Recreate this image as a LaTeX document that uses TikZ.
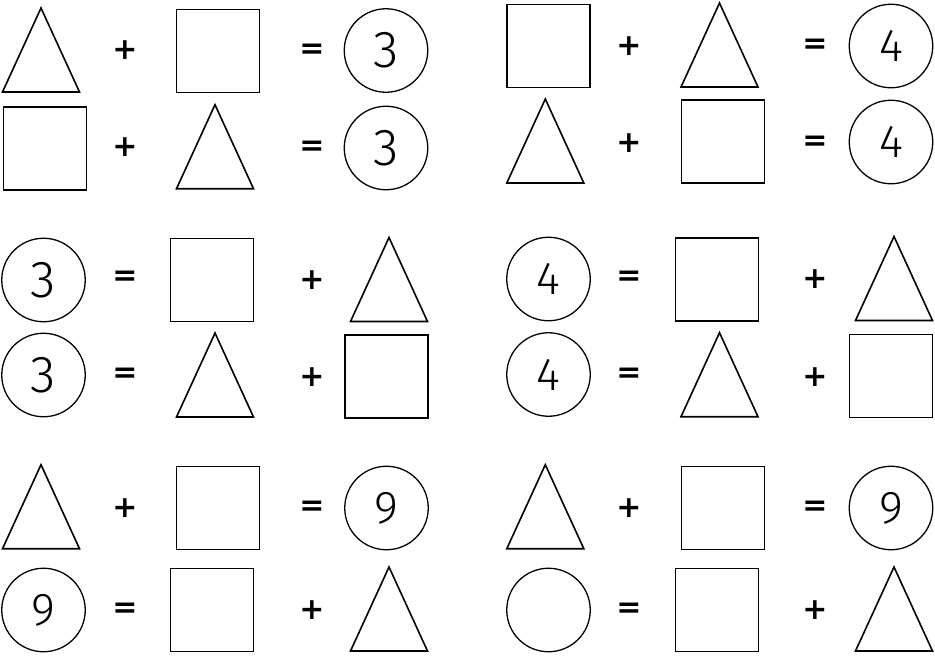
\documentclass[tikz,border=0pt]{standalone}
\usepackage{fontspec}
\newfontfamily\numfont{Fira Sans Light}
\newfontfamily\signfont{DejaVu Sans}
\tikzset{
  box/.style={draw, line width=1.6pt, minimum size=83pt, inner sep=0pt},
  ring/.style={draw, circle, line width=1.3pt, minimum size=83.5pt, inner sep=0pt},
  sign/.style={font=\signfont\bfseries\fontsize{30}{30}\selectfont, inner sep=0pt},
  num/.style={font=\numfont\fontsize{#1}{#1}\selectfont},
  tri/.pic={\draw[line width=1.6pt] (-38.5,42) -- (0,-42) -- (38.5,42) -- cycle;}
}
\begin{document}
\begin{tikzpicture}[x=1pt, y=-1pt]
  \useasboundingbox (0,0) rectangle (935,657);

  % row 1
  \pic (tri1l) at (41,50) {tri};
  \node[sign] (plus1l) at (125,50) {+};
  \node[box] (sq1l) at (218,51) {};
  \node[sign] (eq1l) at (312,51.5) {=};
  \node[ring, num=52] (ring1l) at (386,50.5) {3};

  \node[box] (sq1r) at (548.5,46) {};
  \node[sign] (plus1r) at (629,46) {+};
  \pic (tri1r) at (719.5,45) {tri};
  \node[sign] (eq1r) at (815,46) {=};
  \node[ring, num=46] (ring1r) at (891,46) {4};

  % row 2
  \node[box] (sq2l) at (45,148.5) {};
  \node[sign] (plus2l) at (125,147) {+};
  \pic (tri2l) at (215,146.7) {tri};
  \node[sign] (eq2l) at (312,148) {=};
  \node[ring, num=52] (ring2l) at (386,148) {3};

  \pic (tri2r) at (545.3,141) {tri};
  \node[sign] (plus2r) at (629,143) {+};
  \node[box] (sq2r) at (723,141.7) {};
  \node[sign] (eq2r) at (815,143) {=};
  \node[ring, num=46] (ring2r) at (891,142) {4};

  % row 3
  \node[ring, num=52] (ring3l) at (43.5,280) {3};
  \node[sign] (eq3l) at (125,278.5) {=};
  \node[box] (sq3l) at (212,280) {};
  \node[sign] (plus3l) at (312,280) {+};
  \pic (tri3l) at (389,279.5) {tri};

  \node[ring, num=46] (ring3r) at (548.5,279) {4};
  \node[sign] (eq3r) at (629,278) {=};
  \node[box] (sq3r) at (717,279.7) {};
  \node[sign] (plus3r) at (815,279.3) {+};
  \pic (tri3r) at (894,278.5) {tri};

  % row 4
  \node[ring, num=52] (ring4l) at (43.5,375) {3};
  \node[sign] (eq4l) at (125,375) {=};
  \pic (tri4l) at (215,375) {tri};
  \node[sign] (plus4l) at (312,376.7) {+};
  \node[box] (sq4l) at (386.5,376.7) {};

  \node[ring, num=46] (ring4r) at (548.5,374.5) {4};
  \node[sign] (eq4r) at (629,375) {=};
  \pic (tri4r) at (719.5,374.7) {tri};
  \node[sign] (plus4r) at (815,376.7) {+};
  \node[box] (sq4r) at (891,376) {};

  % row 5
  \pic (tri5l) at (41,506.7) {tri};
  \node[sign] (plus5l) at (125,507.7) {+};
  \node[box] (sq5l) at (218,508) {};
  \node[sign] (eq5l) at (312,508.3) {=};
  \node[ring, num=46] (ring5l) at (386.5,508) {9};

  \pic (tri5r) at (545.3,506.7) {tri};
  \node[sign] (plus5r) at (629,508) {+};
  \node[box] (sq5r) at (723,508) {};
  \node[sign] (eq5r) at (815,508) {=};
  \node[ring, num=46] (ring5r) at (891,508) {9};

  % row 6
  \node[ring, num=46] (ring6l) at (43.5,610) {9};
  \node[sign] (eq6l) at (125,610) {=};
  \node[box] (sq6l) at (212,610) {};
  \node[sign] (plus6l) at (312,610) {+};
  \pic (tri6l) at (389,609) {tri};

  \node[ring] (ring6r) at (548.5,610) {};
  \node[sign] (eq6r) at (629,610) {=};
  \node[box] (sq6r) at (717,610) {};
  \node[sign] (plus6r) at (815,610) {+};
  \pic (tri6r) at (894,609) {tri};
\end{tikzpicture}
\end{document}
